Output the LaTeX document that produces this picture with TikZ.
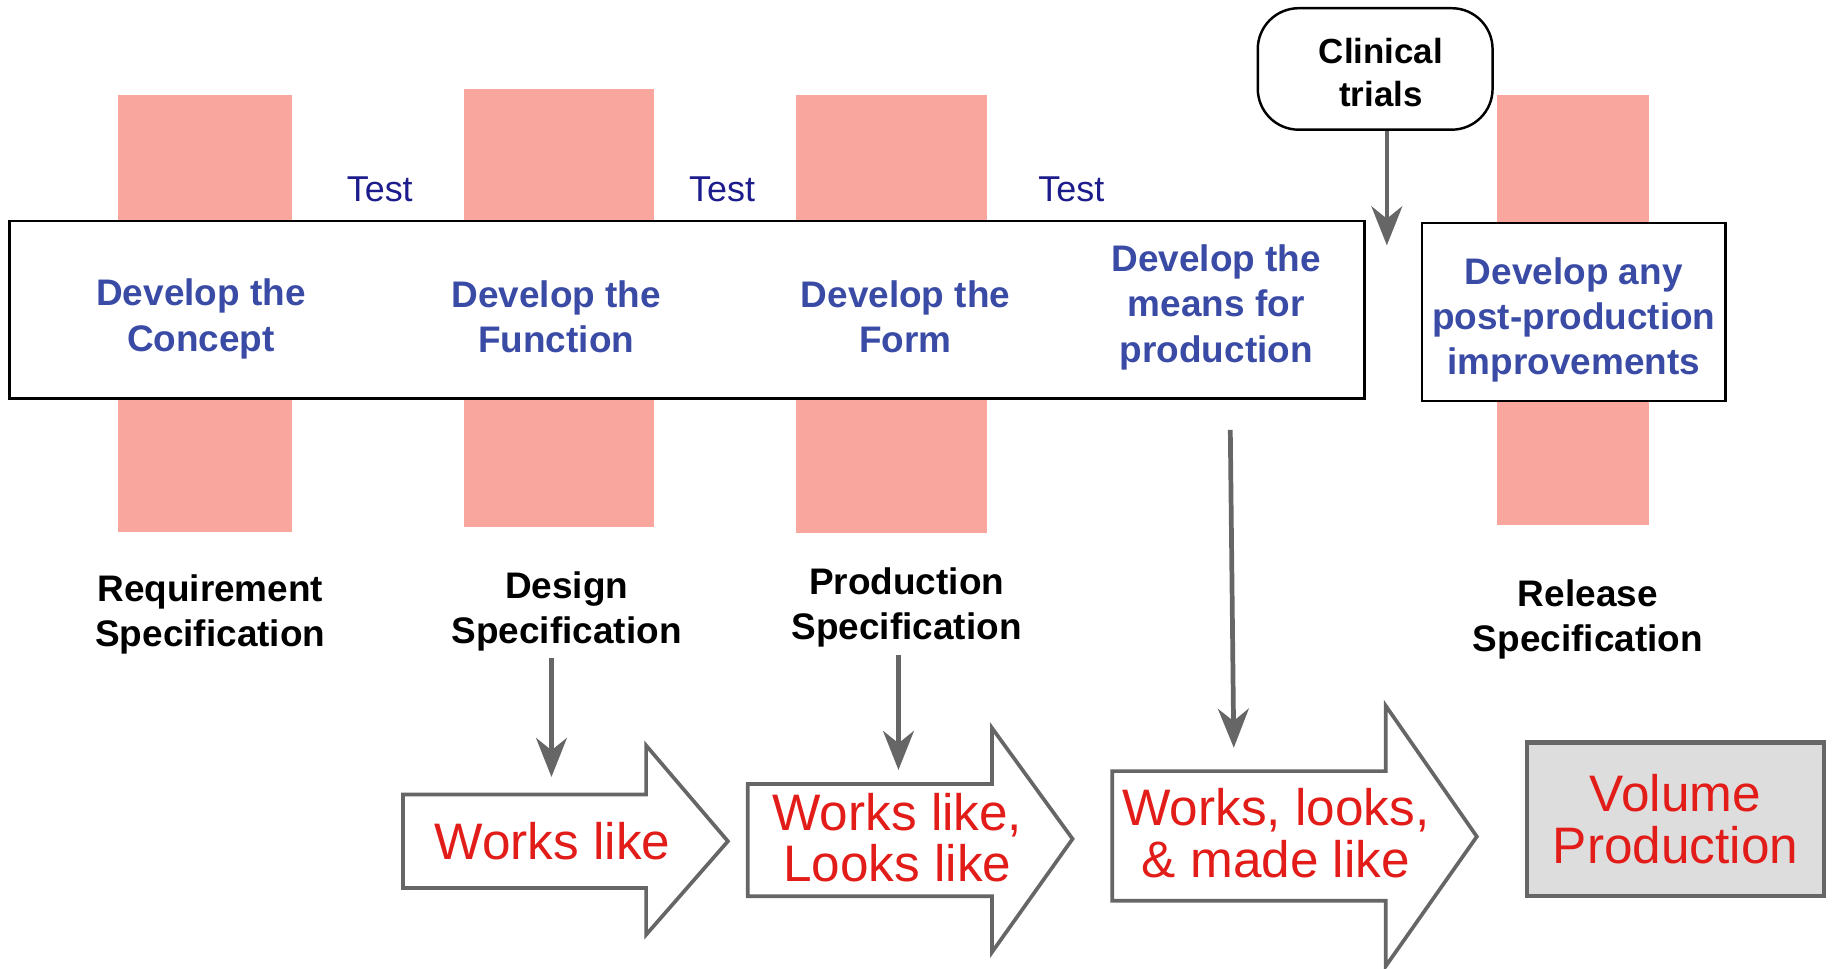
\documentclass[tikz,border=0pt]{standalone}
\usepackage{fontspec}
\setmainfont{Liberation Sans}
\usetikzlibrary{positioning,arrows.meta}
\definecolor{barpink}{RGB}{248,166,158}
\definecolor{stageblue}{RGB}{58,75,166}
\definecolor{testblue}{RGB}{28,28,140}
\definecolor{likered}{RGB}{226,28,24}
\definecolor{flowgray}{RGB}{102,102,102}
\definecolor{volumegray}{RGB}{221,221,221}

\begin{document}
\begin{tikzpicture}[x=0.02cm, y=-0.02cm,
                      stage/.style = {align=center, text=stageblue,
                        font=\fontsize{18}{22}\selectfont\bfseries},
                      spec/.style = {align=center,
                        font=\fontsize{18}{22}\selectfont\bfseries},
                      testlabel/.style = {text=testblue,
                        font=\fontsize{17.5}{21}\selectfont},
                      likes/.style = {align=center, text=likered,
                        font=\fontsize{25}{25}\selectfont},
                      bar/.style = {fill=barpink},
                      stagebox/.style = {draw=black, line width=1.2pt, fill=white},
                      blockarrow/.style = {draw=flowgray, line width=1.8pt, fill=white},
                      flow/.style = {draw=flowgray, line width=2.3pt,
                        -{Stealth[length=19pt,width=15pt,inset=6pt]}}]
                    \useasboundingbox (0,0) rectangle (1568,829);
                    % pink bars behind the stage boxes
                    \fill[bar] (101,81) rectangle (250,455);
                    \fill[bar] (397,76) rectangle (560,451);
                    \fill[bar] (681,81) rectangle (845,456);
                    \fill[bar] (1281,81) rectangle (1411,449);
                    \draw[stagebox] (8,189) rectangle (1168,341);
                    \draw[stagebox] (1217,191) rectangle (1477,343);
                    % stages
                    \node[stage] (concept) at (172,273) {Develop the\\Concept};
                    \node[stage] (function) at (476,271) {Develop the\\Function};
                    \node[stage] (form) at (775,271) {Develop the\\Form};
                    \node[stage] (means) at (1041,263) {Develop the\\means for\\production};
                    \node[stage] (postprod) at (1347,274) {Develop any\\post-production\\improvements};
                    \node[testlabel] (test1) at (325,162) {Test};
                    \node[testlabel] (test2) at (618,162) {Test};
                    \node[testlabel] (test3) at (917,162) {Test};
                    \node[spec, draw, line width=1.2pt, rounded corners=0.7cm,
                      minimum width=4.02cm, minimum height=2.08cm,
                      font=\fontsize{17}{21}\selectfont\bfseries] (clinical) at (1177,59) {};
                    \node[spec, font=\fontsize{17}{21}\selectfont\bfseries] (trials) at (1182,62) {Clinical\\trials};
                    % specifications
                    \node[spec] (reqspec) at (180,526) {Requirement\\Specification};
                    \node[spec] (designspec) at (485,523) {Design\\Specification};
                    \node[spec] (prodspec) at (776,520) {Production\\Specification};
                    \node[spec] (relspec) at (1359,530) {Release\\Specification};
                    % block arrows
                    \draw[blockarrow] (345,680) -- (553,680) -- (553,638) -- (623,720)
                      -- (553,800) -- (553,760) -- (345,760) -- cycle;
                    \draw[blockarrow] (640,671) -- (849,671) -- (849,623) -- (918,718)
                      -- (849,815) -- (849,767) -- (640,767) -- cycle;
                    \draw[blockarrow] (952,660) -- (1186,660) -- (1186,604) -- (1264,716)
                      -- (1186,827) -- (1186,771) -- (952,771) -- cycle;
                    \node[likes] (workslike) at (473,720) {Works like};
                    \node[likes] (lookslike) at (768,717) {Works like,\\Looks like};
                    \node[likes] (madelike) at (1092,713) {Works, looks,\\\& made like};
                    \node[likes, draw=flowgray, line width=2pt, fill=volumegray,
                      minimum width=5.08cm, minimum height=2.62cm] (volume) at (1434,701) {Volume\\Production};
                    % connectors
                    \coordinate (trialsend) at (1187,210);
                    \coordinate (worksin) at (472,665);
                    \coordinate (looksin) at (769,659);
                    \coordinate (meansout) at (1053,368);
                    \coordinate (madein) at (1056,640);
                    \draw[flow] (clinical.south -| trialsend) -- (trialsend);
                    \draw[flow] (designspec.south -| worksin) -- (worksin);
                    \draw[flow] (prodspec.south -| looksin) -- (looksin);
                    \draw[flow] (meansout) -- (madein);
                    \end{tikzpicture}
\end{document}
